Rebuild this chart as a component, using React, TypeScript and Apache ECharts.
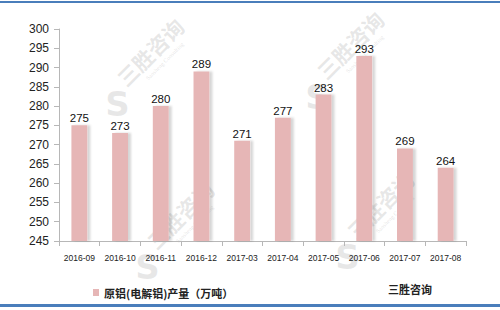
import React, { useEffect, useRef } from "react";
import * as echarts from "echarts";

const categories = ["2016-09", "2016-10", "2016-11", "2016-12", "2017-03", "2017-04", "2017-05", "2017-06", "2017-07", "2017-08"];
const values = [275, 273, 280, 289, 271, 277, 283, 293, 269, 264];
const seriesName = "原铝(电解铝)产量（万吨）";
const sourceText = "三胜咨询";
const watermarkText = "三胜咨询";
const watermarkSub = "Sansheng Consulting";

export default function App() {
  const ref = useRef<HTMLDivElement>(null);
  useEffect(() => {
    const chart = echarts.init(ref.current!, null, { renderer: "svg" });
    const wm = (x: number, y: number) => ({
      type: "group",
      x,
      y,
      rotation: Math.PI / 4,
      silent: true,
      z: 100,
      children: [
        {
          type: "text",
          x: 0,
          y: 0,
          style: {
            text: watermarkText,
            fill: "rgba(170,170,170,0.28)",
            font: 'bold 21px "Noto Sans CJK SC"',
            textAlign: "center",
            textVerticalAlign: "middle",
          },
        },
        {
          type: "text",
          x: 4,
          y: 17,
          style: {
            text: watermarkSub,
            fill: "rgba(170,170,170,0.3)",
            font: '6px "Liberation Serif"',
            textAlign: "center",
            textVerticalAlign: "middle",
          },
        },
        {
          type: "text",
          x: -60,
          y: 14,
          rotation: -Math.PI / 4,
          style: {
            text: "S",
            fill: "rgba(160,160,160,0.25)",
            font: 'bold 34px "DejaVu Sans"',
            textAlign: "center",
            textVerticalAlign: "middle",
          },
        },
      ],
    });
    chart.setOption({
      animation: false,
      backgroundColor: "#ffffff",
      grid: { left: 59, right: 34, top: 29, bottom: 69 },
      legend: {
        data: [seriesName],
        left: 88,
        top: 282,
        icon: "rect",
        itemWidth: 6,
        itemHeight: 7,
        itemGap: 4,
        textStyle: { fontSize: 11, fontWeight: "bold", color: "#222", fontFamily: '"Noto Sans CJK SC"' },
      },
      xAxis: {
        type: "category",
        data: categories,
        axisLine: { lineStyle: { color: "#b7b7b7" } },
        axisTick: { show: true, length: 5, lineStyle: { color: "#b7b7b7" } },
        axisLabel: { fontSize: 8.5, color: "#222", margin: 12, fontFamily: '"Liberation Sans"', interval: 0 },
      },
      yAxis: {
        type: "value",
        min: 245,
        max: 300,
        interval: 5,
        splitLine: { show: false },
        axisLine: { show: true, lineStyle: { color: "#b7b7b7" } },
        axisTick: { show: true, length: 5, lineStyle: { color: "#b7b7b7" } },
        axisLabel: { fontSize: 12, color: "#222", margin: 10, fontFamily: '"Liberation Sans"' },
      },
      series: [
        {
          name: seriesName,
          type: "bar",
          data: values,
          barWidth: "39%",
          itemStyle: {
            color: "#e6b6b6",
            shadowColor: "rgba(0,0,0,0.16)",
            shadowOffsetX: 3,
            shadowOffsetY: 0,
            shadowBlur: 2,
          },
          label: {
            show: true,
            position: "top",
            distance: 1,
            fontSize: 11.5,
            color: "#111",
            fontFamily: '"Liberation Sans"',
          },
        },
      ],
      graphic: [
        { type: "rect", shape: { x: 0, y: 1, width: 500, height: 2 }, style: { fill: "#4a7ebb" }, z: 110 },
        { type: "rect", shape: { x: 0, y: 304, width: 500, height: 3 }, style: { fill: "#4a7ebb" }, z: 110 },
        {
          type: "text",
          x: 388,
          y: 289,
          style: {
            text: sourceText,
            fill: "#222",
            font: 'bold 11px "Noto Sans CJK SC"',
            textVerticalAlign: "middle",
          },
          z: 110,
        },
        wm(150, 52),
        wm(350, 45),
        wm(180, 215),
        wm(380, 205),
      ],
    });
    return () => chart.dispose();
  }, []);
  return <div ref={ref} style={{ width: 500, height: 310, position: "absolute", left: 0, top: 0 }} />;
}
